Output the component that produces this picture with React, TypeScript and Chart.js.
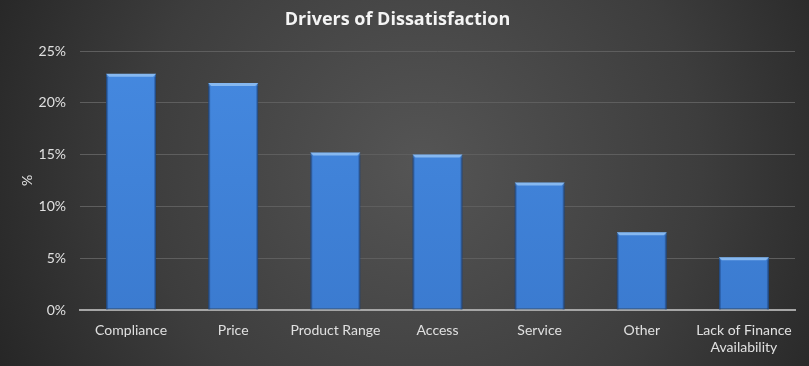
import React, { useEffect, useRef } from "react";
import { Chart, registerables } from "chart.js";

Chart.register(...registerables);

const categories: (string | string[])[] = [
  "Compliance",
  "Price",
  "Product Range",
  "Access",
  "Service",
  "Other",
  ["Lack of Finance", "Availability"],
];
const dissatisfaction: number[] = [22.8, 21.9, 15.2, 15.0, 12.3, 7.5, 5.1];
const yTickValues: number[] = [0, 5, 10, 15, 20, 25];

const FONT = "Lato, 'Open Sans', sans-serif";
const TITLE_FONT = "'Open Sans', Lato, sans-serif";

const bgPlugin = {
  id: "bgPlugin",
  beforeDraw(chart: any) {
    const { ctx, width, height } = chart;
    ctx.save();
    const g = ctx.createRadialGradient(
      width * 0.52, height * 0.45, 10,
      width * 0.52, height * 0.45, width * 0.62
    );
    g.addColorStop(0, "#545454");
    g.addColorStop(0.55, "#3d3d3d");
    g.addColorStop(1, "#222222");
    ctx.fillStyle = g;
    ctx.fillRect(0, 0, width, height);
    ctx.restore();
  },
};

const bevelPlugin = {
  id: "bevelPlugin",
  afterDatasetsDraw(chart: any) {
    const { ctx } = chart;
    const meta = chart.getDatasetMeta(0);
    ctx.save();
    meta.data.forEach((bar: any) => {
      const { x, y, width } = bar.getProps(["x", "y", "width"], true);
      const l = x - width / 2;
      const r = x + width / 2;
      const bev = 3;
      ctx.beginPath();
      ctx.moveTo(l, y);
      ctx.lineTo(r, y);
      ctx.lineTo(r - bev, y + bev);
      ctx.lineTo(l + bev, y + bev);
      ctx.closePath();
      ctx.fillStyle = "#86b8f0";
      ctx.fill();
      ctx.fillStyle = "rgba(20,50,100,0.35)";
      const base = bar.base;
      ctx.fillRect(l, y + bev, 2, base - y - bev);
      ctx.fillRect(r - 2, y + bev, 2, base - y - bev);
    });
    ctx.restore();
  },
};

export default function App() {
  const ref = useRef<HTMLCanvasElement | null>(null);

  useEffect(() => {
    if (!ref.current) return;
    const chart = new Chart(ref.current, {
      type: "bar",
      data: {
        labels: categories,
        datasets: [
          {
            label: "Drivers of Dissatisfaction",
            data: dissatisfaction,
            backgroundColor: (c: any) => {
              const area = c.chart.chartArea;
              if (!area) return "#3f82d6";
              const g = c.chart.ctx.createLinearGradient(0, area.top, 0, area.bottom);
              g.addColorStop(0, "#4589e0");
              g.addColorStop(1, "#3b7bd0");
              return g;
            },
            borderColor: "#2b5b96",
            borderWidth: 1,
            borderSkipped: false,
            barPercentage: 0.49,
            categoryPercentage: 1,
          },
        ],
      },
      options: {
        responsive: false,
        animation: false,
        devicePixelRatio: 1,
        layout: { padding: { left: 0, right: 14, top: 0, bottom: 0 } },
        plugins: {
          legend: { display: false },
          tooltip: { enabled: false },
          title: {
            display: true,
            text: "Drivers of Dissatisfaction",
            color: "#f4f4f4",
            font: { family: TITLE_FONT, size: 18, weight: "bold" },
            padding: { top: 9, bottom: 20.4 },
          },
        },
        scales: {
          x: {
            grid: { display: false, drawTicks: false },
            border: { display: true, color: "#a6a6a6", width: 2 },
            ticks: {
              color: "#e0e0e0",
              font: { family: FONT, size: 14 },
              padding: 12,
              maxRotation: 0,
              autoSkip: false,
            },
            afterFit: (s: any) => {
              s.height = 56;
            },
          },
          y: {
            min: 0,
            max: 25,
            afterBuildTicks: (s: any) => {
              s.ticks = yTickValues.map((v) => ({ value: v }));
            },
            grid: { color: "#5e5e5e", lineWidth: 1, drawTicks: false },
            border: { display: false },
            ticks: {
              color: "#e0e0e0",
              font: { family: FONT, size: 14 },
              padding: 14,
              callback: (v: any) => v + "%",
            },
            title: {
              display: true,
              text: "%",
              color: "#e0e0e0",
              font: { family: FONT, size: 14 },
              padding: { top: 19, bottom: 0 },
            },
            afterFit: (s: any) => {
              s.width = 80;
            },
          },
        },
      },
      plugins: [bgPlugin, bevelPlugin],
    });
    return () => chart.destroy();
  }, []);

  return (
    <div style={{ position: "fixed", left: 0, top: 0, width: 809, height: 366 }}>
      <canvas ref={ref} width={809} height={366} style={{ width: 809, height: 366 }} />
    </div>
  );
}
